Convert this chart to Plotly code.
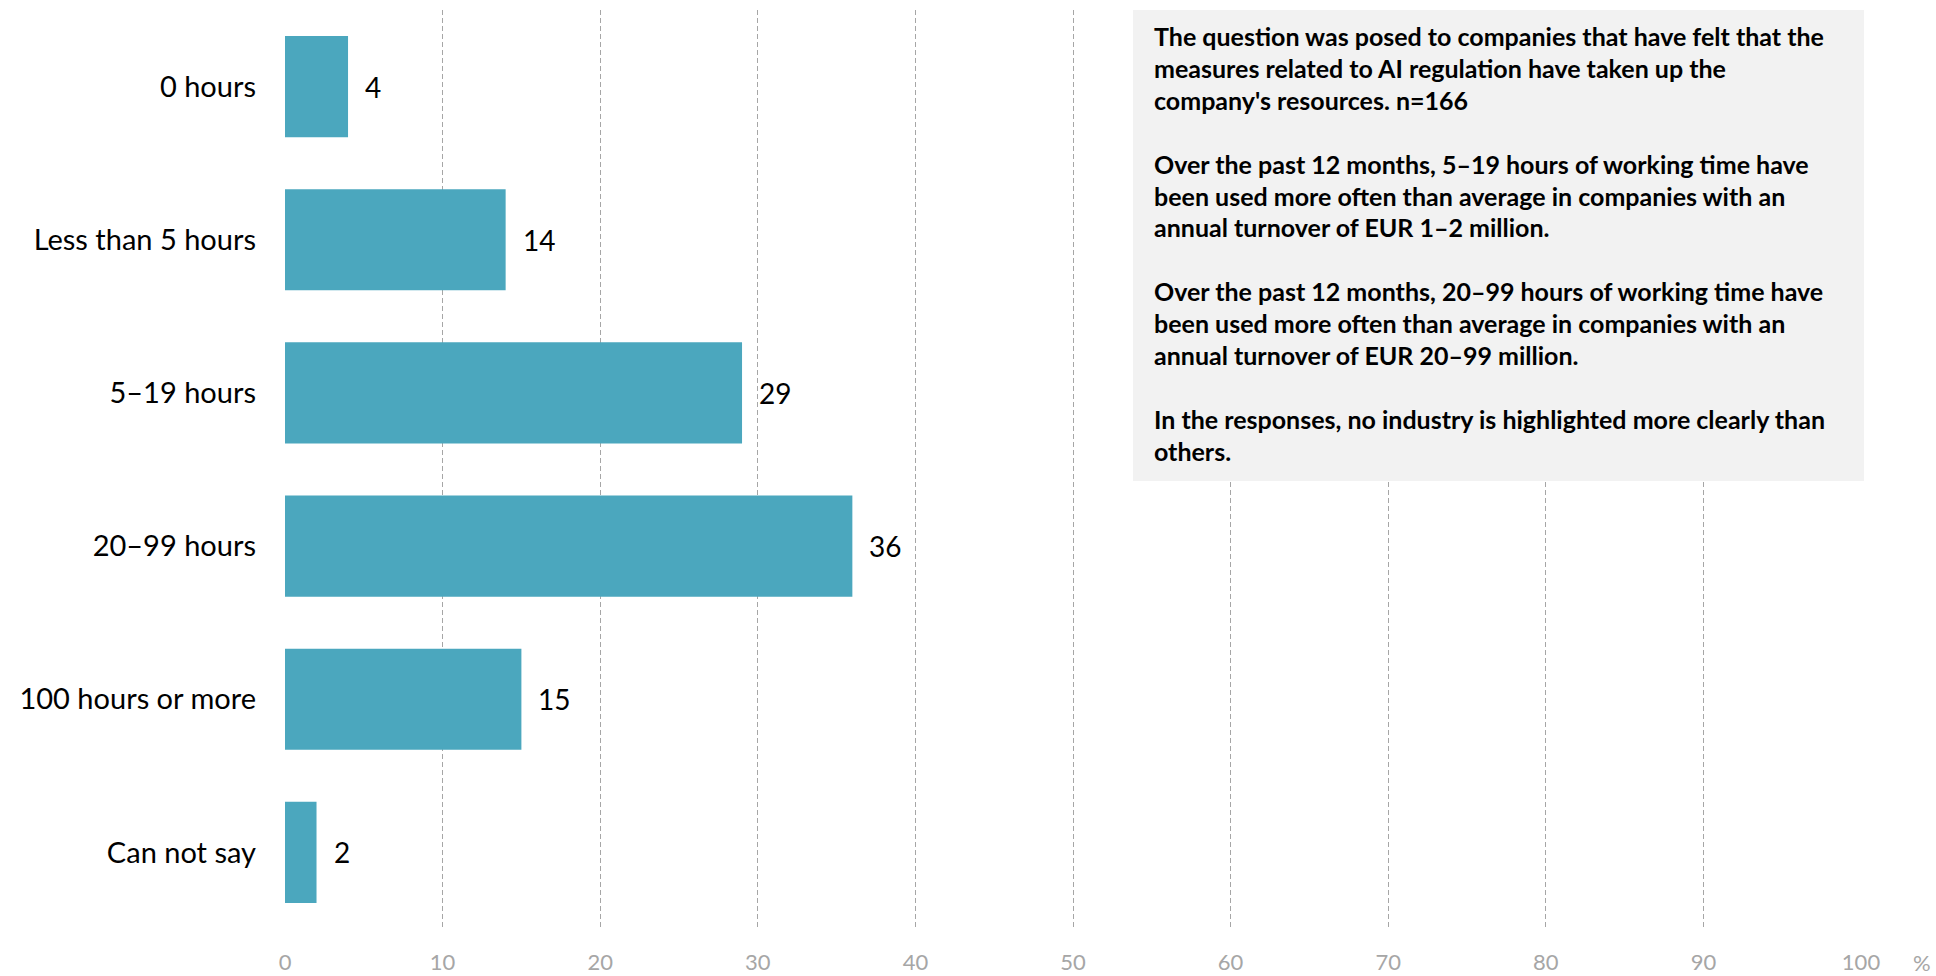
import plotly.graph_objects as go

# Survey answers: working time used on AI-regulation measures (share of companies, %)
categories = ["0 hours", "Less than 5 hours", "5–19 hours", "20–99 hours",
              "100 hours or more", "Can not say"]
values = [4, 14, 29, 36, 15, 2]
x_ticks = [0, 10, 20, 30, 40, 50, 60, 70, 80, 90, 100]

note_lines = [
    "The question was posed to companies that have felt that the",
    "measures related to AI regulation have taken up the",
    "company's resources. n=166",
    "",
    "Over the past 12 months, 5–19 hours of working time have",
    "been used more often than average in companies with an",
    "annual turnover of EUR 1–2 million.",
    "",
    "Over the past 12 months, 20–99 hours of working time have",
    "been used more often than average in companies with an",
    "annual turnover of EUR 20–99 million.",
    "",
    "In the responses, no industry is highlighted more clearly than",
    "others.",
]

FONT = "Lato"
BAR = "#4BA7BE"

fig = go.Figure()
fig.add_trace(go.Bar(
    x=values, y=categories, orientation="h",
    marker=dict(color=BAR, line=dict(width=0)),
    width=0.66, hoverinfo="skip",
))

# value labels next to each bar
for c, v in zip(categories, values):
    fig.add_annotation(x=v, y=c, xref="x", yref="y", text=str(v),
                       showarrow=False, xanchor="left", xshift=15,
                       font=dict(family=FONT, size=28, color="#000000"))

W, H = 1936, 976
L, R, T, B = 285, 75, 10, 47
pw = W - L - R
ph = H - T - B

# note box on the right
fig.add_shape(type="rect", xref="paper", yref="paper", layer="above",
              x0=(1133 - L) / pw, x1=(1864 - L) / pw,
              y0=1 - (481 - T) / ph, y1=1.0,
              fillcolor="#F2F2F2", line=dict(width=0))

# note text, one line at a time with a fixed line pitch
first_line_y, pitch = 36, 31.9
for i, line in enumerate(note_lines):
    if not line:
        continue
    fig.add_annotation(xref="paper", yref="paper",
                       x=(1152 - L) / pw, y=1 - (first_line_y + i * pitch - T) / ph,
                       xanchor="left", yanchor="middle", align="left",
                       text=line, showarrow=False,
                       font=dict(family=FONT, size=25, color="#000000", weight="bold"))

# unit label at the end of the value axis
fig.add_annotation(xref="paper", yref="paper", x=(1922 - L) / pw, y=0,
                   yshift=-33, text="%", showarrow=False, xanchor="center",
                   yanchor="middle",
                   font=dict(family=FONT, size=22, color="#A6A6A6"))

fig.update_layout(
    width=W, height=H,
    margin=dict(l=L, r=R, t=T, b=B, autoexpand=False),
    paper_bgcolor="white", plot_bgcolor="white",
    showlegend=False,
    bargap=0.34,
    xaxis=dict(range=[0, 100], tickvals=x_ticks, showgrid=True,
               gridcolor="#A6A6A6", griddash="5px,3px", gridwidth=1,
               zeroline=False, showline=False, automargin=False,
               tickfont=dict(family=FONT, size=22, color="#A6A6A6"),
               ticklabelstandoff=18, fixedrange=True),
    yaxis=dict(categoryorder="array", categoryarray=categories,
               autorange="reversed", showgrid=False, zeroline=False,
               showline=False, automargin=False,
               tickfont=dict(family=FONT, size=29, color="#000000"),
               ticklabelstandoff=28, fixedrange=True),
)

fig.write_html("out.html")
